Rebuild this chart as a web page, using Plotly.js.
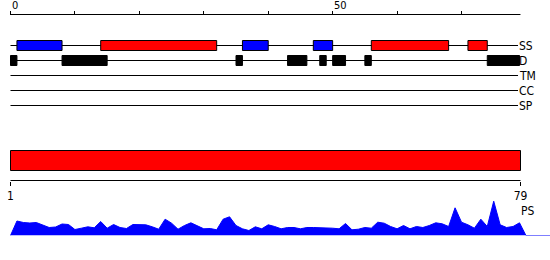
<!DOCTYPE html>
<html><head><meta charset="utf-8">
<script src="https://cdn.plot.ly/plotly-3.0.1.min.js"></script>
<style>html,body{margin:0;padding:0;background:#fff}#chart{width:550px;height:260px}</style>
</head><body><div id="chart"></div>
<script>
// ---------- data ----------
const seqLength = 79;
const trackNames = ['SS', 'D', 'TM', 'CC', 'SP'];
const ssStart = [1, 14, 36, 47, 56, 71];
const ssEnd   = [8, 32, 40, 50, 68, 74];
const ssType  = ['E', 'H', 'E', 'E', 'H', 'H'];
const disStart = [0, 8, 35, 43, 48, 50, 55, 74];
const disEnd   = [1, 15, 36, 46, 49, 52, 56, 79];
const topTickVals = [0, 10, 20, 30, 40, 50, 60, 70];
const topTickLabels = ['0', '', '', '', '', '50', '', ''];
const domainStart = [1];
const domainEnd = [79];
const bottomTickVals = [1, 79];
const bottomTickLabels = ['1', '79'];
const psValues = [14.5, 13, 12.5, 13, 10.5, 8, 8.5, 11.5, 11, 6,
  7.3, 8.7, 7.7, 14, 7.3, 11, 8, 7, 11, 11,
  10.7, 8.7, 6.3, 16.3, 12.3, 6.3, 10, 12.7, 9.7, 6.7,
  7, 5.7, 16.3, 18.7, 10, 6.7, 5, 8.7, 6.7, 10.7,
  9, 6.7, 8, 8, 6.7, 8, 8, 8, 7.7, 7.3,
  6.7, 12, 5.7, 6.3, 8, 7.3, 13.3, 12.3, 9, 6.7,
  10, 6.7, 9, 8, 10, 12.7, 11.7, 9, 27.7, 13.3,
  10.7, 7.3, 16.3, 9, 34.3, 10.7, 8, 9, 12.7];

// ---------- geometry ----------
const W = 550, H = 260;
const FONT = 'DejaVu Sans Condensed, DejaVu Sans, sans-serif';
const k1 = 6.443, o1 = 10.5;               // top scale px per residue, px of 0
const xr = [-o1 / k1, (W - o1) / k1];
const k2 = 510 / 78, o2 = 10.5;            // bottom scale
const x2r = [1 - o2 / k2, 1 + (W - o2) / k2];
const trackY = i => 45.5 + 15 * i;
const boxHalf = 5;
const ssColor = {E: '#0000ff', H: '#ff0000'};
const lineEnd = seqLength - 0.23;

const shapes = [];
// top axis line
shapes.push({type: 'line', xref: 'x', yref: 'y', x0: 0, x1: seqLength + 0.15, y0: 14.5, y1: 14.5,
  line: {color: '#000', width: 1}});
// track lines
trackNames.forEach((n, i) => {
  shapes.push({type: 'line', xref: 'x', yref: 'y', x0: 0, x1: lineEnd, y0: trackY(i), y1: trackY(i),
    line: {color: '#000', width: 1}});
});
// SS boxes
ssStart.forEach((s, j) => {
  shapes.push({type: 'rect', xref: 'x', yref: 'y', x0: s, x1: ssEnd[j],
    y0: trackY(0) - boxHalf, y1: trackY(0) + boxHalf,
    fillcolor: ssColor[ssType[j]], line: {color: '#000', width: 1}});
});
// disorder boxes
disStart.forEach((s, j) => {
  shapes.push({type: 'rect', xref: 'x', yref: 'y', x0: s, x1: disEnd[j],
    y0: trackY(1) - boxHalf, y1: trackY(1) + boxHalf,
    fillcolor: '#000', line: {color: '#000', width: 1}});
});
// bottom axis line
shapes.push({type: 'line', xref: 'x2', yref: 'y', x0: domainStart[0], x1: domainEnd[0], y0: 180.5, y1: 180.5,
  line: {color: '#000', width: 1}});

const annotations = [];
topTickVals.forEach((v, i) => {
  if (!topTickLabels[i]) return;
  annotations.push({xref: 'x', yref: 'y', x: v, y: 5, xanchor: 'left', yanchor: 'middle',
    xshift: -1, text: topTickLabels[i], showarrow: false, font: {family: FONT, size: 11, color: '#000'}});
});
trackNames.forEach((n, i) => {
  annotations.push({xref: 'x', yref: 'y', x: lineEnd, y: trackY(i), xanchor: 'left', yanchor: 'middle',
    xshift: -1, text: n, showarrow: false, font: {family: FONT, size: 12, color: '#000'}});
});
annotations.push({xref: 'x', yref: 'y', x: seqLength + 0.15, y: 211, xanchor: 'left', yanchor: 'middle',
  xshift: -1, text: 'PS', showarrow: false, font: {family: FONT, size: 12, color: '#000'}});

// ---------- traces ----------
const traces = [];
// chain domain bar
domainStart.forEach((s, j) => {
  const e = domainEnd[j];
  traces.push({type: 'scatter', mode: 'lines', xaxis: 'x2', yaxis: 'y',
    x: [s, e, e, s, s], y: [150.5, 150.5, 170.5, 170.5, 150.5],
    fill: 'toself', fillcolor: '#ff0000', line: {color: '#000', width: 1}, hoverinfo: 'skip'});
});
// PS profile
const psX = [0].concat(psValues.map((_, i) => i + 1), [seqLength + 1, xr[1]]);
const psY = [0].concat(psValues, [0, 0]);
traces.push({type: 'scatter', mode: 'lines', xaxis: 'x', yaxis: 'y3', x: psX, y: psY,
  fill: 'tozeroy', fillcolor: '#0000ff', line: {color: '#0000ff', width: 1, shape: 'linear'}, hoverinfo: 'skip'});

const psBase = 235.5;
const layout = {
  width: W, height: H, margin: {l: 0, r: 0, t: 0, b: 0, pad: 0},
  paper_bgcolor: '#ffffff', plot_bgcolor: 'rgba(0,0,0,0)', showlegend: false,
  xaxis: {domain: [0, 1], range: xr, anchor: 'free', position: 1 - 14.5 / H, side: 'top',
    showline: false, showgrid: false, zeroline: false, ticks: 'outside', ticklen: 4, tickwidth: 1,
    tickcolor: '#000', tickvals: topTickVals, showticklabels: false, fixedrange: true},
  xaxis2: {overlaying: 'x', range: x2r, anchor: 'free', position: 1 - 180.5 / H, side: 'bottom',
    showline: false, showgrid: false, zeroline: false, ticks: 'outside', ticklen: 4, tickwidth: 1,
    tickcolor: '#000', tickmode: 'array', tickvals: bottomTickVals, ticktext: bottomTickLabels,
    tickfont: {family: FONT, size: 12, color: '#000'}, fixedrange: true},
  yaxis: {domain: [0, 1], range: [H, 0], visible: false, anchor: 'free', position: 0, fixedrange: true},
  yaxis3: {domain: [(H - psBase) / H, (H - psBase + 64) / H], range: [0, 64], visible: false,
    anchor: 'free', position: 0, fixedrange: true},
  shapes: shapes, annotations: annotations
};
Plotly.newPlot('chart', traces, layout, {displayModeBar: false, staticPlot: true});
</script></body></html>
